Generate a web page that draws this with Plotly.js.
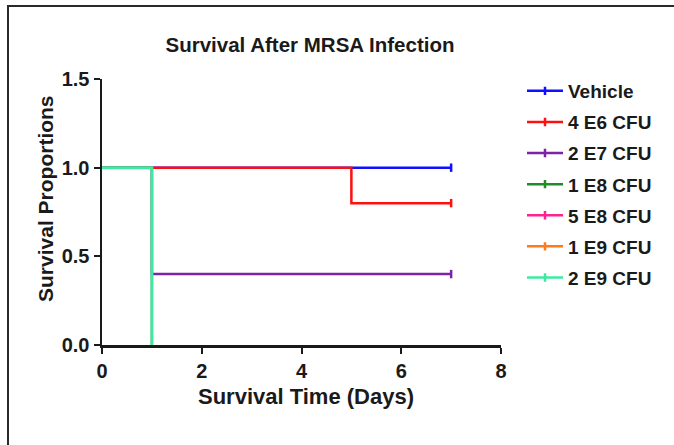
<!DOCTYPE html>
<html>
<head>
<meta charset="utf-8">
<script src="https://cdn.plot.ly/plotly-3.0.1.min.js"></script>
<style>html,body{margin:0;padding:0;background:#fff;}#chart{width:674px;height:445px;}</style>
</head>
<body>
<div id="chart"></div>
<script>
// ---- data ----
var seriesNames = ["Vehicle", "4 E6 CFU", "2 E7 CFU", "1 E8 CFU", "5 E8 CFU", "1 E9 CFU", "2 E9 CFU"];
var seriesColors = ["#1010FF", "#FF1010", "#7E22A8", "#1E8C2A", "#FF2290", "#FF7A1A", "#3DEAA2"];
var lineWidths = [2.5, 2.5, 2.5, 2, 2, 2, 3];

var vehicleDays = [0, 7];
var vehicleSurv = [1.0, 1.0];
var e6Days = [0, 5, 7];
var e6Surv = [1.0, 0.8, 0.8];
var e7Days = [0, 1, 7];
var e7Surv = [1.0, 0.4, 0.4];
var e8Days = [0, 1];
var e8Surv = [1.0, 0.0];
var e8bDays = [0, 1];
var e8bSurv = [1.0, 0.0];
var e9Days = [0, 1];
var e9Surv = [1.0, 0.0];
var e9bDays = [0, 1];
var e9bSurv = [1.0, 0.0];

// censored observations (tick marks)
var vehicleCensX = [7], vehicleCensY = [1.0];
var e6CensX = [7], e6CensY = [0.8];
var e7CensX = [7], e7CensY = [0.4];
var noCensX = [null], noCensY = [null];

var xTicks = [0, 2, 4, 6, 8];
var yTicks = [0, 0.5, 1.0, 1.5];

var chartTitle = "Survival After MRSA Infection";
var xTitle = "Survival Time (Days)";
var yTitle = "Survival Proportions";

var curves = [
  [vehicleDays, vehicleSurv, vehicleCensX, vehicleCensY],
  [e6Days, e6Surv, e6CensX, e6CensY],
  [e7Days, e7Surv, e7CensX, e7CensY],
  [e8Days, e8Surv, noCensX, noCensY],
  [e8bDays, e8bSurv, noCensX, noCensY],
  [e9Days, e9Surv, noCensX, noCensY],
  [e9bDays, e9bSurv, noCensX, noCensY]
];

var traces = [];
curves.forEach(function (c, i) {
  traces.push({
    x: c[0], y: c[1], type: "scatter", mode: "lines",
    line: {shape: "hv", color: seriesColors[i], width: lineWidths[i]},
    name: seriesNames[i], legendgroup: "g" + i, showlegend: false,
    hoverinfo: "skip", cliponaxis: false
  });
});
curves.forEach(function (c, i) {
  traces.push({
    x: c[2], y: c[3], type: "scatter", mode: "lines+markers",
    line: {color: seriesColors[i], width: 2.5},
    marker: {symbol: "line-ns", size: 6, line: {color: seriesColors[i], width: 2.5}},
    name: seriesNames[i], legendgroup: "g" + i, showlegend: true,
    cliponaxis: false
  });
});

var fontFam = "Liberation Sans, Arial, sans-serif";
var L = 102, R = 173, T = 79, B = 100;
var pw = 674 - L - R, ph = 445 - T - B;
function px2x(p) { return (p - L) / pw; }
function px2y(p) { return (T + ph - p) / ph; }

var layout = {
  width: 674, height: 445,
  margin: {l: L, r: R, t: T, b: B, pad: 0},
  paper_bgcolor: "#fff", plot_bgcolor: "#fff",
  font: {family: fontFam, color: "#1a1a1a"},
  title: {
    text: "<b>" + chartTitle + "</b>",
    font: {family: fontFam, size: 20.5, color: "#1a1a1a"},
    xref: "paper", x: px2x(310), xanchor: "center",
    yref: "container", y: 1 - 45 / 445, yanchor: "middle"
  },
  xaxis: {
    range: [0, 8], tickvals: xTicks, ticktext: xTicks.map(String),
    showgrid: false, zeroline: false, showline: true,
    linecolor: "#1a1a1a", linewidth: 2.5,
    ticks: "outside", ticklen: 6, tickwidth: 2, tickcolor: "#1a1a1a",
    tickfont: {family: fontFam, size: 20, color: "#1a1a1a", weight: "bold"},
    fixedrange: true
  },
  yaxis: {
    range: [0, 1.5], tickvals: yTicks, ticktext: yTicks.map(function (v) { return v.toFixed(1); }),
    showgrid: false, zeroline: false, showline: true,
    linecolor: "#1a1a1a", linewidth: 2.5,
    ticks: "outside", ticklen: 6, tickwidth: 2, tickcolor: "#1a1a1a",
    tickfont: {family: fontFam, size: 20, color: "#1a1a1a", weight: "bold"},
    fixedrange: true
  },
  annotations: [
    {text: "<b>" + xTitle + "</b>", xref: "paper", yref: "paper",
     x: px2x(306), y: px2y(396), xanchor: "center", yanchor: "middle",
     showarrow: false, font: {family: fontFam, size: 22, color: "#1a1a1a"}},
    {text: "<b>" + yTitle + "</b>", xref: "paper", yref: "paper",
     x: px2x(45), y: px2y(199), xanchor: "center", yanchor: "middle", textangle: -90,
     showarrow: false, font: {family: fontFam, size: 21, color: "#1a1a1a"}}
  ],
  legend: {
    x: px2x(522), xanchor: "left",
    y: px2y(72), yanchor: "top",
    font: {family: fontFam, size: 19, color: "#1a1a1a", weight: "bold"},
    traceorder: "grouped", tracegroupgap: 3.4, itemwidth: 36,
    bgcolor: "rgba(0,0,0,0)", borderwidth: 0
  },
  shapes: [{
    type: "rect", xref: "paper", yref: "paper",
    x0: px2x(8), x1: px2x(700),
    y0: px2y(470), y1: px2y(6),
    line: {color: "#2a2a2a", width: 2}, fillcolor: "rgba(0,0,0,0)", layer: "below"
  }],
  showlegend: true
};

Plotly.newPlot("chart", traces, layout, {displayModeBar: false, staticPlot: true});
</script>
</body>
</html>
